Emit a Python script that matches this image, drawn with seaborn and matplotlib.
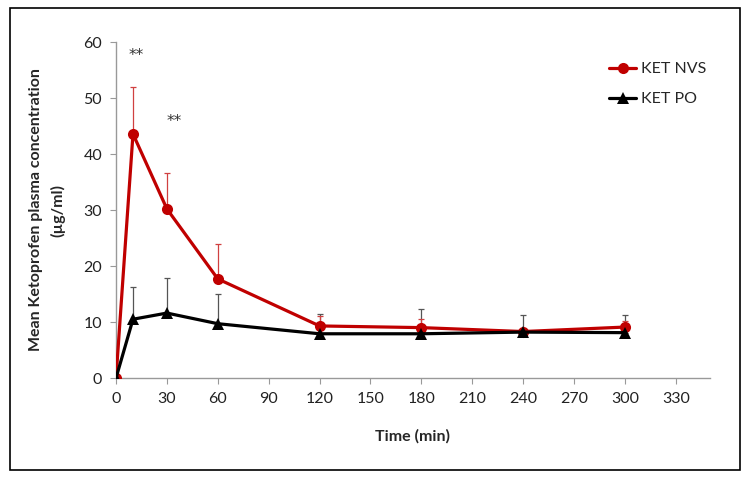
import matplotlib
matplotlib.use("Agg")
import matplotlib.pyplot as plt
import seaborn as sns
import pandas as pd
from matplotlib.patches import Rectangle

time_min = [0, 10, 30, 60, 120, 180, 240, 300]
nvs_mean = [0, 43.6, 30.2, 17.7, 9.3, 9.0, 8.3, 9.1]
nvs_err = [0, 8.4, 6.5, 6.3, 1.8, 1.5, 0.0, 1.0]
po_mean = [0, 10.5, 11.6, 9.7, 7.9, 7.9, 8.2, 8.1]
po_err = [0, 5.7, 6.2, 5.3, 3.6, 4.5, 3.0, 3.1]
series_names = ["KET NVS", "KET PO"]
x_ticks = list(range(0, 331, 30))
y_ticks = [0, 10, 20, 30, 40, 50, 60]

sns.set_theme(style="white")
plt.rcParams['font.family'] = ['Lato', 'DejaVu Sans']

df = pd.DataFrame({
    "Time": time_min * 2,
    "Conc": nvs_mean + po_mean,
    "Group": [series_names[0]] * len(time_min) + [series_names[1]] * len(time_min),
})

fig = plt.figure(figsize=(7.51, 4.84), dpi=100)
ax = fig.add_axes([0.1545, 0.219, 0.7905, 0.694])

red = "#C00000"
palette = {series_names[0]: red, series_names[1]: "#000000"}
markers = {series_names[0]: "o", series_names[1]: "^"}

# error bars (upper only)
ax.errorbar(time_min, po_mean, yerr=[[0] * len(po_err), po_err], fmt="none",
            ecolor="#555555", elinewidth=0.9, capsize=2.5, capthick=0.9, zorder=1)
ax.errorbar(time_min, nvs_mean, yerr=[[0] * len(nvs_err), nvs_err], fmt="none",
            ecolor="#D04040", elinewidth=0.9, capsize=2.5, capthick=0.9, zorder=1)

sns.lineplot(data=df, x="Time", y="Conc", hue="Group", style="Group",
             palette=palette, markers=markers, dashes=False, linewidth=2.3,
             markersize=8, markeredgewidth=0, ax=ax, zorder=3)

ax.set_xlim(0, 350)
ax.set_ylim(0, 60)
ax.set_xticks(x_ticks)
ax.set_yticks(y_ticks)
ax.tick_params(axis="both", labelsize=11.5, colors="#222222", length=4, width=0.8,
               direction="out", bottom=True, left=True, pad=6)
ax.tick_params(axis="both", color="#999999")
for s in ["top", "right"]:
    ax.spines[s].set_visible(False)
for s in ["left", "bottom"]:
    ax.spines[s].set_color("#999999")
    ax.spines[s].set_linewidth(1.0)

ax.set_xlabel("Time (min)", fontsize=11.5, fontweight="bold", labelpad=17)
ax.set_ylabel("Mean Ketoprofen plasma concentration\n(µg/ml)", fontsize=11.5,
              fontweight="bold", labelpad=13, linespacing=1.6)

ax.text(12, 57.6, "**", fontsize=11, ha="center", va="center", color="#333333",
        family=["DejaVu Sans"])
ax.text(34, 45.8, "**", fontsize=11, ha="center", va="center", color="#333333",
        family=["DejaVu Sans"])

leg = ax.legend(loc="upper left", bbox_to_anchor=(0.82, 0.96), frameon=False,
                fontsize=11.5, handlelength=1.7, handletextpad=0.3, labelspacing=1.0,
                borderaxespad=0)

fig.patches.append(Rectangle((10 / 751, 1 - 470 / 484), 730 / 751, 462 / 484,
                             transform=fig.transFigure, fill=False,
                             edgecolor="black", linewidth=1.2))

fig.savefig("out.png", dpi=100)
